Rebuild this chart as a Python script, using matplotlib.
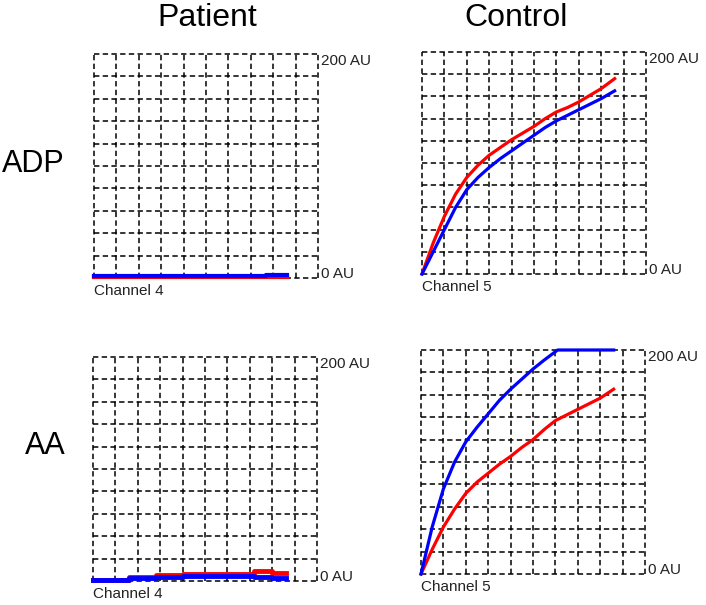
import numpy as np
import matplotlib
matplotlib.use("Agg")
import matplotlib.pyplot as plt

plt.rcParams['font.family'] = ['Liberation Sans', 'DejaVu Sans']

# time in grid divisions (0..10), aggregation in AU (0..200)
pat_adp_t = [0, 7.7, 7.7, 8.6]
pat_adp_red = [0.5, 0.5, 1.0, 1.0]
pat_adp_blue = [1.5, 1.5, 3.0, 3.0]

ctrl_adp_t = [0, 0.5, 1.0, 1.5, 2.0, 2.5, 3.0, 3.5, 4.0, 4.5, 5.0, 5.5, 6.0, 6.5, 7.0, 7.5, 8.0, 8.6]
ctrl_adp_red = [0, 28, 52, 72, 87, 98, 107, 114, 121, 127, 133, 140, 146, 150, 155, 161, 167, 176]
ctrl_adp_blue = [0, 20, 40, 60, 76, 87, 96, 104, 111, 118, 125, 132, 138, 143, 148, 153, 158, 165]

pat_aa_t = [0, 1.6, 2.8, 4.0, 5.0, 6.0, 7.2, 8.0, 8.6]
pat_aa_red = [1, 4, 5, 6, 6, 6.5, 9, 7, 7]
pat_aa_blue = [1, 2.5, 4, 4.5, 4.5, 4.5, 4, 3, 3]

ctrl_aa_red_t = [0, 0.5, 1.0, 1.5, 2.0, 2.5, 3.0, 3.5, 4.0, 4.5, 5.0, 5.5, 6.0, 6.5, 7.0, 7.5, 8.0, 8.6]
ctrl_aa_red = [0, 22, 42, 58, 72, 82, 90, 98, 105, 113, 120, 129, 137, 142, 147, 152, 157, 165]
ctrl_aa_blue_t = [0, 0.5, 1.0, 1.5, 2.0, 2.5, 3.0, 3.5, 4.0, 4.5, 5.0, 5.5, 6.1, 8.6]
ctrl_aa_blue = [0, 42, 76, 100, 118, 131, 143, 155, 165, 174, 183, 191, 200, 200]

col_titles = ['Patient', 'Control']
row_titles = ['ADP', 'AA']

W, H = 706, 605
fig = plt.figure(figsize=(W / 100, H / 100), dpi=100)


def make_ax(x0, y0, x1, y1):
    ax = fig.add_axes([x0 / W, 1 - y1 / H, (x1 - x0) / W, (y1 - y0) / H])
    ax.set_xlim(0, 10)
    ax.set_ylim(0, 200)
    ax.set_xticks(np.arange(0, 11, 1))
    ax.set_yticks(np.arange(0, 201, 20))
    ax.tick_params(length=0, labelbottom=False, labelleft=False)
    ax.grid(True, color='black', lw=1.1, ls=(0, (3.5, 2.2)))
    for gl in ax.get_xgridlines() + ax.get_ygridlines():
        gl.set_clip_on(False)
    for s in ax.spines.values():
        s.set_visible(False)
    ax.text(1.012, 1.0, '200 AU', transform=ax.transAxes, va='top', ha='left',
            fontsize=11, color='#222222')
    ax.text(1.012, 0.0, '0 AU', transform=ax.transAxes, va='baseline', ha='left',
            fontsize=11, color='#222222')
    return ax


ax1 = make_ax(94, 54, 318, 278)
ax2 = make_ax(422, 52, 646, 274)
ax3 = make_ax(93, 357, 317, 581)
ax4 = make_ax(421, 350, 645, 574)

ax1.plot(pat_adp_t, pat_adp_red, color='#ff0000', lw=3, clip_on=False, zorder=3)
ax1.plot(pat_adp_t, pat_adp_blue, color='#0000ff', lw=3, clip_on=False, zorder=4)

ax2.plot(ctrl_adp_t, ctrl_adp_red, color='#ff0000', lw=2.3, clip_on=False, zorder=3)
ax2.plot(ctrl_adp_t, ctrl_adp_blue, color='#0000ff', lw=2.3, clip_on=False, zorder=4)

ax3.plot(pat_aa_t, pat_aa_red, color='#ff0000', lw=3.5, drawstyle='steps-post',
         clip_on=False, zorder=3)
ax3.plot(pat_aa_t, pat_aa_blue, color='#0000ff', lw=3.5, drawstyle='steps-post',
         clip_on=False, zorder=4)

ax4.plot(ctrl_aa_red_t, ctrl_aa_red, color='#ff0000', lw=2.3, clip_on=False, zorder=3)
ax4.plot(ctrl_aa_blue_t, ctrl_aa_blue, color='#0000ff', lw=2.3, clip_on=False, zorder=4)

for ax, ch in zip([ax1, ax2, ax3, ax4], ['Channel 4', 'Channel 5', 'Channel 4', 'Channel 5']):
    ax.text(0.0, -0.025, ch, transform=ax.transAxes, va='top', ha='left',
            fontsize=11, color='#222222')

fig.text(207 / W, 1 - 26 / H, col_titles[0], fontsize=23, ha='center', va='baseline')
fig.text(516 / W, 1 - 26 / H, col_titles[1], fontsize=23, ha='center', va='baseline')
fig.text(33 / W, 1 - 172 / H, row_titles[0], fontsize=22, ha='center', va='baseline')
fig.text(45 / W, 1 - 454 / H, row_titles[1], fontsize=22, ha='center', va='baseline')

fig.savefig('out.png', dpi=100)
